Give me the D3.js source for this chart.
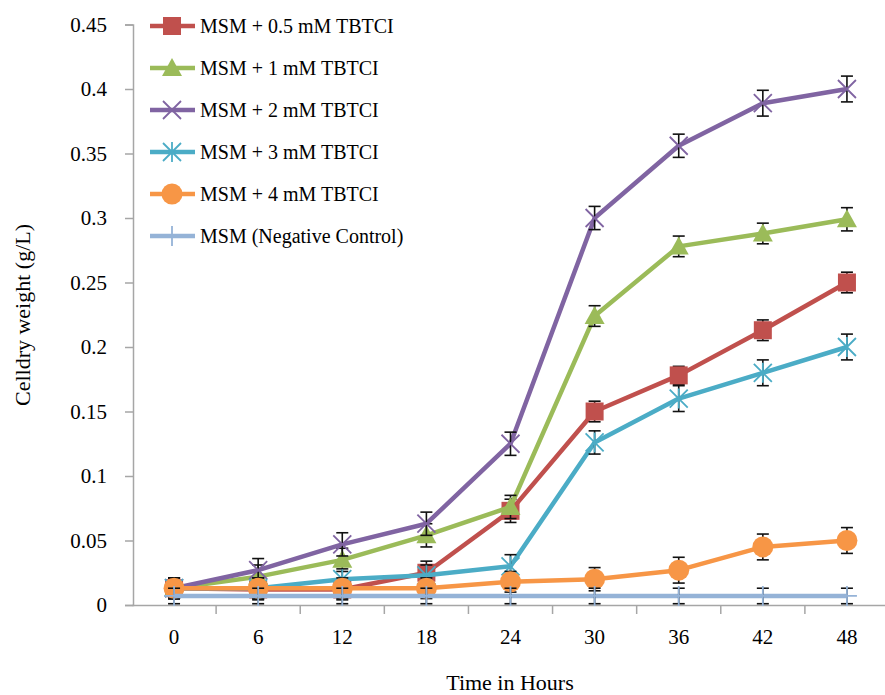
<!DOCTYPE html>
<html>
<head>
<meta charset="utf-8">
<script src="https://cdn.jsdelivr.net/npm/d3@7"></script>
<style>
  body { margin: 0; background: #fff; }
  svg text { font-family: "Liberation Serif", "Times New Roman", Times, "DejaVu Serif", serif; fill: #000; }
</style>
</head>
<body>
<script>
(function() {

    var width = 885;
    var height = 695;
    var serif = "'Liberation Serif', 'Times New Roman', Times, 'DejaVu Serif', serif";

    // data
    const hours = ["0", "6", "12", "18", "24", "30", "36", "42", "48"];
    const yTicks = [0, 0.05, 0.1, 0.15, 0.2, 0.25, 0.3, 0.35, 0.4, 0.45];

    const names = ["MSM + 0.5 mM TBTCI", "MSM + 1 mM TBTCI", "MSM + 2 mM TBTCI",
                   "MSM + 3 mM TBTCI", "MSM + 4 mM TBTCI", "MSM (Negative Control)"];
    const colors = ["#c0504d", "#9bbb59", "#8064a2", "#4bacc6", "#f79646", "#95b3d7"];
    const markers = ["square", "triangle", "x", "star", "circle", "plus"];

    const tbt05 = [0.013, 0.012, 0.012, 0.025, 0.073, 0.150, 0.178, 0.213, 0.250];
    const tbt1  = [0.013, 0.022, 0.035, 0.054, 0.076, 0.224, 0.278, 0.288, 0.299];
    const tbt2  = [0.013, 0.027, 0.047, 0.063, 0.125, 0.300, 0.356, 0.389, 0.400];
    const tbt3  = [0.013, 0.013, 0.020, 0.023, 0.030, 0.126, 0.160, 0.180, 0.200];
    const tbt4  = [0.013, 0.013, 0.013, 0.013, 0.018, 0.020, 0.027, 0.045, 0.050];
    const ctrl  = [0.007, 0.007, 0.007, 0.007, 0.007, 0.007, 0.007, 0.007, 0.007];

    const err05 = [0.008, 0.008, 0.008, 0.009, 0.009, 0.008, 0.007, 0.008, 0.008];
    const err1  = [0.008, 0.009, 0.009, 0.009, 0.009, 0.008, 0.008, 0.008, 0.009];
    const err2  = [0.008, 0.009, 0.009, 0.009, 0.009, 0.009, 0.009, 0.010, 0.010];
    const err3  = [0.008, 0.008, 0.008, 0.008, 0.009, 0.009, 0.010, 0.010, 0.010];
    const err4  = [0.008, 0.008, 0.008, 0.008, 0.008, 0.009, 0.010, 0.010, 0.010];
    const errC  = [0.006, 0.006, 0.006, 0.006, 0.006, 0.006, 0.006, 0.006, 0.006];

    const values = [tbt05, tbt1, tbt2, tbt3, tbt4, ctrl];
    const errors = [err05, err1, err2, err3, err4, errC];

    const series = names.map((n, i) => ({
        name: n, color: colors[i], marker: markers[i],
        points: values[i].map((v, j) => ({ h: hours[j], v: v, e: errors[i][j] }))
    }));

    const svg = d3.select("body")
      .append("svg")
      .attr("width", width)
      .attr("height", height)
      .attr("font-family", serif);

    //scales
    const x = d3.scaleBand().domain(hours).range([132, 889]).padding(0);
    const y = d3.scaleLinear().domain([0, 0.45]).range([605, 24.5]);
    const cx = d => x(d) + x.bandwidth() / 2;

    const axisColor = "#a6a6a6";

    //y axis
    const yAxis = svg.append("g")
        .attr("transform", "translate(133,0)")
        .call(d3.axisLeft(y).tickValues(yTicks).tickSize(8).tickPadding(18)
            .tickFormat(d => d3.format("")(+d.toFixed(2))));
    yAxis.attr("font-family", serif);
    yAxis.select(".domain").attr("stroke", axisColor).attr("stroke-width", 1.5);
    yAxis.selectAll(".tick line").attr("stroke", axisColor).attr("stroke-width", 1.5);
    yAxis.selectAll(".tick text").style("font-size", "21px").attr("dy", "0.33em");

    //x axis: labels in the middle of each band, ticks on the band edges
    const xAxis = svg.append("g")
        .attr("transform", "translate(0,605)")
        .call(d3.axisBottom(x).tickSize(0).tickPadding(24));
    xAxis.attr("font-family", serif);
    xAxis.select(".domain").attr("stroke", axisColor).attr("stroke-width", 1.5);
    xAxis.selectAll(".tick text").style("font-size", "21px");
    svg.append("g").selectAll("line")
        .data(hours.slice(1).concat(["end"]))
        .join("line")
        .attr("x1", d => d === "end" ? 889 : x(d))
        .attr("x2", d => d === "end" ? 889 : x(d))
        .attr("y1", 605)
        .attr("y2", 614)
        .attr("stroke", axisColor)
        .attr("stroke-width", 1.5);

    //axis titles
    svg.append("text")
        .attr("x", 510)
        .attr("y", 690)
        .attr("text-anchor", "middle")
        .style("font-size", "22px")
        .text("Time in Hours");
    svg.append("text")
        .attr("transform", "translate(30,315) rotate(-90)")
        .attr("text-anchor", "middle")
        .style("font-size", "22px")
        .text("Celldry weight (g/L)");

    //marker drawing
    function drawMarker(g, type, color) {
        if (type === "square") {
            g.append("rect").attr("x", -9).attr("y", -9).attr("width", 18).attr("height", 18)
                .attr("fill", color);
        } else if (type === "triangle") {
            g.append("path").attr("d", "M0,-10L10,8L-10,8Z").attr("fill", color);
        } else if (type === "circle") {
            g.append("circle").attr("r", 10.5).attr("fill", color);
        } else if (type === "x") {
            g.append("path").attr("d", "M-9,-9L9,9M-9,9L9,-9")
                .attr("stroke", color).attr("stroke-width", 1.8).attr("fill", "none");
        } else if (type === "star") {
            g.append("path").attr("d", "M-9,-9L9,9M-9,9L9,-9M0,-10L0,10")
                .attr("stroke", color).attr("stroke-width", 1.8).attr("fill", "none");
        } else if (type === "plus") {
            g.append("path").attr("d", "M-10,0L10,0M0,-10L0,10")
                .attr("stroke", color).attr("stroke-width", 1.8).attr("fill", "none");
        }
    }

    const line = d3.line().x(d => cx(d.h)).y(d => y(d.v));

    series.forEach(s => {
        const g = svg.append("g");

        g.append("path")
            .datum(s.points)
            .attr("d", line)
            .attr("fill", "none")
            .attr("stroke", s.color)
            .attr("stroke-width", 4.5)
            .attr("stroke-linejoin", "round");

        //error bars
        const eb = g.append("g").selectAll("g")
            .data(s.points)
            .join("g")
            .attr("stroke", "#111")
            .attr("stroke-width", 1.6);
        eb.append("line")
            .attr("x1", d => cx(d.h)).attr("x2", d => cx(d.h))
            .attr("y1", d => y(d.v + d.e)).attr("y2", d => y(d.v - d.e));
        eb.append("line")
            .attr("x1", d => cx(d.h) - 6).attr("x2", d => cx(d.h) + 6)
            .attr("y1", d => y(d.v + d.e)).attr("y2", d => y(d.v + d.e));
        eb.append("line")
            .attr("x1", d => cx(d.h) - 6).attr("x2", d => cx(d.h) + 6)
            .attr("y1", d => y(d.v - d.e)).attr("y2", d => y(d.v - d.e));

        //markers
        g.append("g").selectAll("g")
            .data(s.points)
            .join("g")
            .attr("transform", d => `translate(${cx(d.h)},${y(d.v)})`)
            .each(function() { drawMarker(d3.select(this), s.marker, s.color); });
    });

    //legend
    const legend = svg.append("g").selectAll("g")
        .data(series)
        .join("g")
        .attr("transform", (d, i) => `translate(150,${26 + i * 42})`);
    legend.append("line")
        .attr("x1", 0).attr("x2", 45)
        .attr("stroke", d => d.color)
        .attr("stroke-width", 4.5);
    legend.append("g")
        .attr("transform", "translate(22,0)")
        .each(function(d) { drawMarker(d3.select(this), d.marker, d.color); });
    legend.append("text")
        .attr("x", 50)
        .attr("dy", "0.33em")
        .style("font-size", "20px")
        .text(d => d.name);

})();
</script>
</body>
</html>
